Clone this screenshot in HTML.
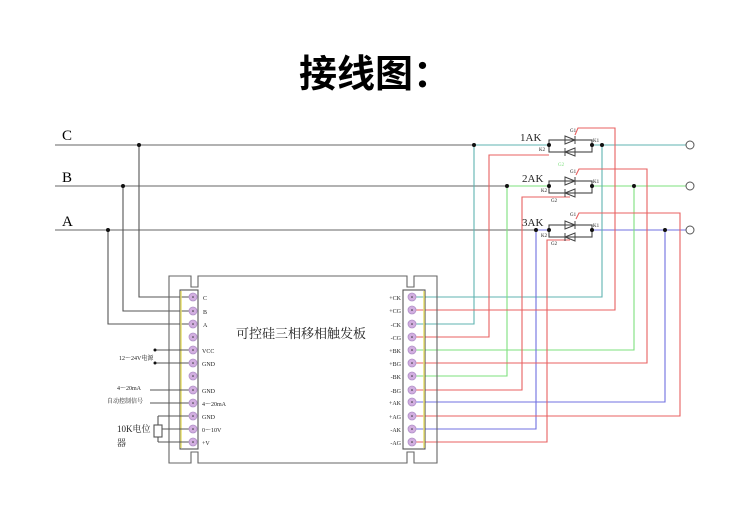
<!DOCTYPE html>
<html><head><meta charset="utf-8"><style>
html,body{margin:0;padding:0;background:#fff;}
svg{display:block;}
text{font-family:"Liberation Serif","Noto Serif CJK SC",serif;}
</style></head><body>
<svg width="746" height="522" viewBox="0 0 746 522" xmlns="http://www.w3.org/2000/svg">
<text x="375" y="87" font-size="38" font-weight="bold" text-anchor="middle" style="font-family:'Liberation Sans','Noto Sans CJK SC',sans-serif">接线图：</text>

<text x="62" y="140" font-size="15">C</text>
<text x="62" y="182" font-size="15">B</text>
<text x="62" y="226" font-size="15">A</text>

<g fill="none" stroke-width="1.1">
<path d="M55 145H549M55 186H549M55 230H549" stroke="#666"/>
<path d="M474 145H549M592 145H686" stroke="#5fb3b0"/>
<path d="M507 186H549M592 186H686" stroke="#7ee07e"/>
<path d="M536 230H549M592 230H686" stroke="#7070e0"/>

<path d="M139 145V297H193M123 186V311H193M108 230V324H193" stroke="#555"/>

<g stroke="#444">
<rect x="549" y="140" width="43" height="12"/>
<rect x="549" y="181" width="43" height="12"/>
<rect x="549" y="225" width="43" height="12"/>
</g>

<path d="M602 145V297H412M474 145V324H412" stroke="#5fb3b0"/>
<path d="M634 186V350H412M507 186V376H412" stroke="#7ee07e"/>
<path d="M665 230V402H412M536 230V429H412" stroke="#7070e0"/>
<g stroke="#e86060">
<path d="M575 135L578 128H615V310H412"/>
<path d="M576 175L579 169H647V363H412"/>
<path d="M576 219L579 213H680V416H412"/>
<path d="M549 155H489V337H412"/>
<path d="M570 197H522V390H412"/>
<path d="M570 240H547V442H412"/>
</g>

<path d="M169 276H191V287H198V276H407V287H414V276H437V463H414V452H407V463H198V452H191V463H169Z" stroke="#666"/>
<rect x="180" y="290" width="18" height="159" stroke="#555"/>
<line x1="181" y1="291" x2="181" y2="448" stroke="#e8e070" stroke-width="1.5"/>
<rect x="403" y="290" width="22" height="159" stroke="#555"/>
<line x1="424" y1="291" x2="424" y2="448" stroke="#e8e070" stroke-width="1.5"/>

<path d="M155 350H193M155 363H193M150 390H193M150 403H193" stroke="#555"/>
<path d="M158 416H193M158 442H193M158 416V425M158 437V442M162 429H193" stroke="#555"/>
<rect x="154" y="425" width="8" height="12" stroke="#555"/>
</g>

<g fill="#d2aee0" stroke="#b090c8" stroke-width="0.8">
<circle cx="193" cy="297" r="4"/><circle cx="193" cy="311" r="4"/><circle cx="193" cy="324" r="4"/><circle cx="193" cy="337" r="4"/>
<circle cx="193" cy="350" r="4"/><circle cx="193" cy="363" r="4"/><circle cx="193" cy="376" r="4"/><circle cx="193" cy="390" r="4"/>
<circle cx="193" cy="403" r="4"/><circle cx="193" cy="416" r="4"/><circle cx="193" cy="429" r="4"/><circle cx="193" cy="442" r="4"/>
<circle cx="412" cy="297" r="4"/><circle cx="412" cy="310" r="4"/><circle cx="412" cy="324" r="4"/><circle cx="412" cy="337" r="4"/>
<circle cx="412" cy="350" r="4"/><circle cx="412" cy="363" r="4"/><circle cx="412" cy="376" r="4"/><circle cx="412" cy="390" r="4"/>
<circle cx="412" cy="402" r="4"/><circle cx="412" cy="416" r="4"/><circle cx="412" cy="429" r="4"/><circle cx="412" cy="442" r="4"/>
</g>
<g fill="#333">
<circle cx="193" cy="297" r="0.8"/><circle cx="193" cy="311" r="0.8"/><circle cx="193" cy="324" r="0.8"/><circle cx="193" cy="337" r="0.8"/>
<circle cx="193" cy="350" r="0.8"/><circle cx="193" cy="363" r="0.8"/><circle cx="193" cy="376" r="0.8"/><circle cx="193" cy="390" r="0.8"/>
<circle cx="193" cy="403" r="0.8"/><circle cx="193" cy="416" r="0.8"/><circle cx="193" cy="429" r="0.8"/><circle cx="193" cy="442" r="0.8"/>
<circle cx="412" cy="297" r="0.8"/><circle cx="412" cy="310" r="0.8"/><circle cx="412" cy="324" r="0.8"/><circle cx="412" cy="337" r="0.8"/>
<circle cx="412" cy="350" r="0.8"/><circle cx="412" cy="363" r="0.8"/><circle cx="412" cy="376" r="0.8"/><circle cx="412" cy="390" r="0.8"/>
<circle cx="412" cy="402" r="0.8"/><circle cx="412" cy="416" r="0.8"/><circle cx="412" cy="429" r="0.8"/><circle cx="412" cy="442" r="0.8"/>
</g>

<g fill="none" stroke="#444" stroke-width="1">
<path d="M565 136L575 140L565 144ZM575 136V144M575 148L565 152L575 156ZM565 148V156"/>
<path d="M565 177L575 181L565 185ZM575 177V185M575 189L565 193L575 197ZM565 189V197"/>
<path d="M565 221L575 225L565 229ZM575 221V229M575 233L565 237L575 241ZM565 233V241"/>
</g>

<g fill="#111">
<circle cx="139" cy="145" r="2"/><circle cx="123" cy="186" r="2"/><circle cx="108" cy="230" r="2"/>
<circle cx="474" cy="145" r="2"/><circle cx="549" cy="145" r="2"/><circle cx="592" cy="145" r="2"/><circle cx="602" cy="145" r="2"/>
<circle cx="507" cy="186" r="2"/><circle cx="549" cy="186" r="2"/><circle cx="592" cy="186" r="2"/><circle cx="634" cy="186" r="2"/>
<circle cx="536" cy="230" r="2"/><circle cx="549" cy="230" r="2"/><circle cx="592" cy="230" r="2"/><circle cx="665" cy="230" r="2"/>
<circle cx="155" cy="350" r="1.5"/><circle cx="155" cy="363" r="1.5"/>
</g>
<g fill="#fff" stroke="#555">
<circle cx="690" cy="145" r="4"/><circle cx="690" cy="186" r="4"/><circle cx="690" cy="230" r="4"/>
</g>

<g font-size="11" fill="#222">
<text x="520" y="141">1AK</text><text x="522" y="182">2AK</text><text x="522" y="226">3AK</text>
</g>
<g font-size="5" fill="#222">
<text x="570" y="132">G1</text><text x="593" y="142">K1</text><text x="539" y="151">K2</text>
<text x="570" y="173">G1</text><text x="593" y="183">K1</text><text x="541" y="192">K2</text><text x="551" y="202">G2</text>
<text x="570" y="216">G1</text><text x="593" y="227">K1</text><text x="541" y="237">K2</text><text x="551" y="245">G2</text>
<text x="558" y="166" fill="#7ee07e">G2</text>
</g>

<text x="236" y="338" font-size="13" fill="#222">可控硅三相移相触发板</text>
<g font-size="6" fill="#222">
<text x="203" y="300">C</text><text x="203" y="314">B</text><text x="203" y="327">A</text>
<text x="202" y="353">VCC</text><text x="202" y="366">GND</text><text x="202" y="393">GND</text>
<text x="202" y="406">4～20mA</text><text x="202" y="419">GND</text><text x="202" y="432">0～10V</text><text x="202" y="445">+V</text>
<g text-anchor="end">
<text x="401" y="300">+CK</text><text x="401" y="313">+CG</text><text x="401" y="327">-CK</text><text x="401" y="340">-CG</text>
<text x="401" y="353">+BK</text><text x="401" y="366">+BG</text><text x="401" y="379">-BK</text><text x="401" y="393">-BG</text>
<text x="401" y="405">+AK</text><text x="401" y="419">+AG</text><text x="401" y="432">-AK</text><text x="401" y="445">-AG</text>
</g>
<text x="119" y="360">12～24V电源</text>
<text x="117" y="390">4～20mA</text>
<text x="107" y="403">自动控制信号</text>
</g>
<text x="117" y="432" font-size="9" fill="#222">10K电位</text>
<text x="117" y="446" font-size="9" fill="#222">器</text>
</svg>
</body></html>
